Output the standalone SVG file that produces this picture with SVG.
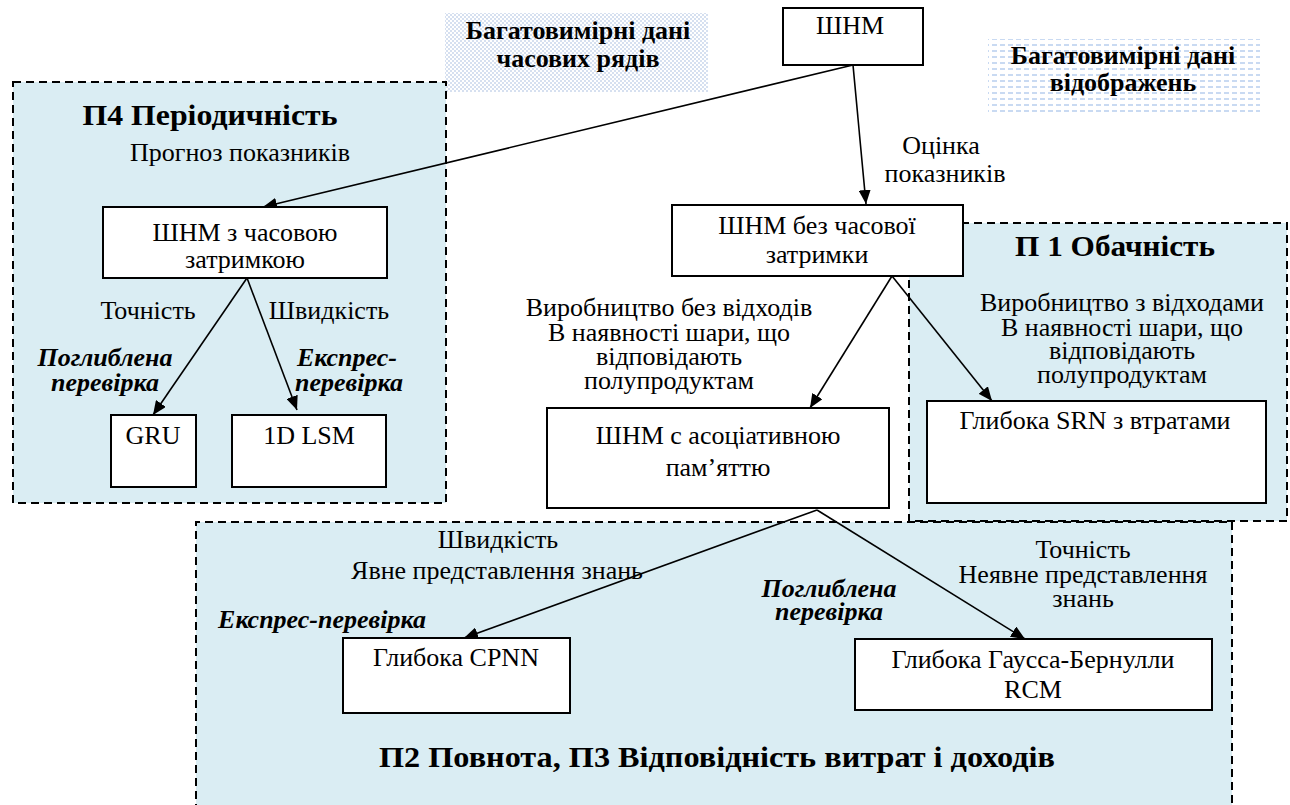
<svg xmlns="http://www.w3.org/2000/svg" width="1290" height="805" viewBox="0 0 1290 805">
  <style>
    text { font-family: "Liberation Serif", "Times New Roman", serif; fill: #000; text-anchor: middle; }
    .t { font-size: 26px; }
    .h { font-size: 29px; font-weight: bold; }
    .b { font-size: 26px; font-weight: bold; }
    .bi { font-size: 26px; font-weight: bold; font-style: italic; }
    .node { fill: #fff; stroke: #000; stroke-width: 2; }
    .panel { fill: #daedf3; stroke: #000; stroke-width: 2; stroke-dasharray: 8 5; }
    .edge { fill: none; stroke: #000; stroke-width: 1.6; marker-end: url(#arrow); }
  </style>
  <defs>
    <marker id="arrow" markerUnits="userSpaceOnUse" viewBox="0 0 14 12" refX="14" refY="6" markerWidth="14" markerHeight="12" orient="auto">
      <path d="M0,0 L14,6 L0,12 Z" fill="#000"/>
    </marker>
    <pattern id="dots" width="4" height="4" patternUnits="userSpaceOnUse">
      <rect width="4" height="4" fill="#fff"/>
      <rect x="0" y="0" width="2" height="2" fill="#d6e0f0"/>
      <rect x="2" y="2" width="2" height="2" fill="#d6e0f0"/>
    </pattern>
    <pattern id="dashes" width="8" height="6" patternUnits="userSpaceOnUse">
      <rect width="8" height="6" fill="#fff"/>
      <rect x="0" y="2" width="5" height="2" fill="#c9daf2"/>
    </pattern>
  </defs>

  <!-- shaded data captions -->
  <g id="data-series">
    <rect x="445" y="13" width="263" height="79" fill="url(#dots)"/>
    <text class="b" x="578" y="39">Багатовимірні дані</text>
    <text class="b" x="578" y="67">часових рядів</text>
  </g>
  <g id="data-images">
    <rect x="988" y="39" width="272" height="76" fill="url(#dashes)"/>
    <text class="b" x="1123" y="64">Багатовимірні дані</text>
    <text class="b" x="1123" y="91">відображень</text>
  </g>

  <!-- dashed requirement panels -->
  <g id="panel-p2">
    <path class="panel" d="M196,812 V522 H1232 V812"/>
    <text class="h" x="717" y="767" textLength="676" lengthAdjust="spacingAndGlyphs">П2 Повнота, П3 Відповідність витрат і доходів</text>
  </g>
  <g id="panel-p4">
    <rect class="panel" x="13" y="82" width="433" height="421"/>
    <text class="h" x="210" y="125" textLength="255" lengthAdjust="spacingAndGlyphs">П4 Періодичність</text>
  </g>
  <g id="panel-p1">
    <rect class="panel" x="909" y="223" width="378" height="298"/>
    <text class="h" x="1115" y="256" textLength="200" lengthAdjust="spacingAndGlyphs">П 1 Обачність</text>
  </g>

  <!-- edge labels -->
  <g id="labels">
    <text class="t" x="240" y="161">Прогноз показників</text>
    <text class="t" x="148" y="319">Точність</text>
    <text class="t" x="329" y="319">Швидкість</text>
    <text class="bi" x="105" y="366">Поглиблена</text>
    <text class="bi" x="105" y="391">перевірка</text>
    <text class="bi" x="347" y="366">Експрес-</text>
    <text class="bi" x="349" y="391">перевірка</text>

    <text class="t" x="941" y="154">Оцінка</text>
    <text class="t" x="945" y="182">показників</text>

    <text class="t" x="669" y="316">Виробництво без відходів</text>
    <text class="t" x="669" y="341">В наявності шари, що</text>
    <text class="t" x="669" y="365">відповідають</text>
    <text class="t" x="669" y="389">полупродуктам</text>

    <text class="t" x="1122" y="311">Виробництво з відходами</text>
    <text class="t" x="1122" y="336">В наявності шари, що</text>
    <text class="t" x="1122" y="359">відповідають</text>
    <text class="t" x="1122" y="383">полупродуктам</text>

    <text class="t" x="498" y="548">Швидкість</text>
    <text class="t" x="497" y="579">Явне представлення знань</text>
    <text class="bi" x="322" y="628">Експрес-перевірка</text>

    <text class="bi" x="829" y="597">Поглиблена</text>
    <text class="bi" x="829" y="620">перевірка</text>
    <text class="t" x="1083" y="558">Точність</text>
    <text class="t" x="1083" y="583">Неявне представлення</text>
    <text class="t" x="1083" y="607">знань</text>
  </g>

  <!-- connectors -->
  <g id="connectors">
    <line class="edge" x1="853" y1="65" x2="263" y2="207"/>
    <line class="edge" x1="853" y1="65" x2="866" y2="204"/>
    <line class="edge" x1="247" y1="278" x2="153" y2="415"/>
    <line class="edge" x1="247" y1="278" x2="297" y2="410"/>
    <line class="edge" x1="892" y1="276" x2="810" y2="408"/>
    <line class="edge" x1="892" y1="276" x2="992" y2="401"/>
    <line class="edge" x1="817" y1="510" x2="464" y2="638"/>
    <line class="edge" x1="817" y1="510" x2="1025" y2="639"/>
  </g>

  <!-- model nodes -->
  <g id="shnm">
    <rect class="node" x="783" y="8" width="140" height="57"/>
    <text class="t" x="850" y="34">ШНМ</text>
  </g>
  <g id="shnm-delay">
    <rect class="node" x="103" y="207" width="284" height="71"/>
    <text class="t" x="245" y="241">ШНМ з часовою</text>
    <text class="t" x="245" y="268">затримкою</text>
  </g>
  <g id="gru">
    <rect class="node" x="111" y="415" width="85" height="72"/>
    <text class="t" x="153" y="444">GRU</text>
  </g>
  <g id="lsm">
    <rect class="node" x="232" y="415" width="154" height="72"/>
    <text class="t" x="309" y="444">1D LSM</text>
  </g>
  <g id="shnm-nodelay">
    <rect class="node" x="672" y="205" width="291" height="71"/>
    <text class="t" x="817" y="234">ШНМ без часової</text>
    <text class="t" x="817" y="263">затримки</text>
  </g>
  <g id="shnm-assoc">
    <rect class="node" x="547" y="408" width="342" height="100"/>
    <text class="t" x="718" y="444">ШНМ с асоціативною</text>
    <text class="t" x="718" y="476">пам’яттю</text>
  </g>
  <g id="srn">
    <rect class="node" x="927" y="401" width="339" height="102"/>
    <text class="t" x="1095" y="429">Глибока SRN з втратами</text>
  </g>
  <g id="cpnn">
    <rect class="node" x="343" y="638" width="227" height="75"/>
    <text class="t" x="456" y="666">Глибока CPNN</text>
  </g>
  <g id="rcm">
    <rect class="node" x="855" y="639" width="357" height="71"/>
    <text class="t" x="1033" y="668">Глибока Гаусса-Бернулли</text>
    <text class="t" x="1033" y="698">RCM</text>
  </g>
</svg>
